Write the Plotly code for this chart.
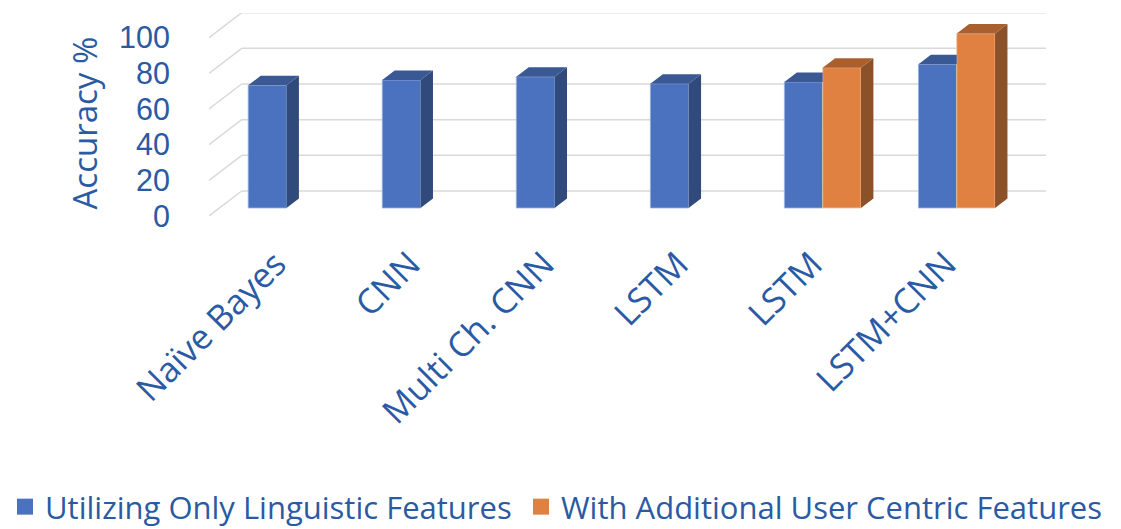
import plotly.graph_objects as go

# ---- data ----
categories = ["Naïve Bayes", "CNN", "Multi Ch. CNN", "LSTM", "LSTM", "LSTM+CNN"]
linguistic_only = [68.8, 71.8, 73.6, 69.7, 70.7, 80.6]
with_user_centric = [None, None, None, None, 78.7, 97.8]
y_ticks = [0, 20, 40, 60, 80, 100]
series_names = ["Utilizing Only Linguistic Features", "With Additional User Centric Features"]

# ---- figure geometry (pixels) ----
W, H = 1121, 529
L_PX, R_PX, T_PX, B_PX = 209, 1046, 13, 216
PX_PER_CAT = 134.05
PX_PER_VAL = 1.783

# oblique depth of the chart box, in data units
DEPTH_DX = 32.7 / PX_PER_CAT
DEPTH_DY = 25.0 / PX_PER_VAL
BAR_FRONT = 0.32      # fraction of box depth where bar front faces sit
BAR_DEPTH = 0.38      # fraction of box depth taken by each bar
BAR_W = 0.2857        # bar width in category units

x_min = -0.5
x_max = x_min + (R_PX - L_PX) / PX_PER_CAT
y_max = (B_PX - T_PX) / PX_PER_VAL

fdx, fdy = BAR_FRONT * DEPTH_DX, BAR_FRONT * DEPTH_DY
bdx, bdy = BAR_DEPTH * DEPTH_DX, BAR_DEPTH * DEPTH_DY

TEXT = "#2A5AA3"
FONT = "Open Sans"
styles = [
    dict(front="#4A72BF", side="#2F4A7B", top="#3A5894", edge="#9DB4E0", offset=-BAR_W),
    dict(front="#E08142", side="#8B5129", top="#A9602E", edge="#F2C3A0", offset=0.0),
]
legend_ids = ["legend", "legend2"]

fig = go.Figure()

# front faces
for k, (name, vals) in enumerate(zip(series_names, [linguistic_only, with_user_centric])):
    st = styles[k]
    fig.add_trace(go.Bar(
        x=[i + fdx for i in range(len(categories))], y=vals, base=fdy,
        width=BAR_W, offset=st["offset"], name=name, legendgroup=name,
        showlegend=False,
        marker=dict(color=st["front"], line=dict(color=st["edge"], width=0.8)),
        hovertemplate="%{customdata}: %{y}<extra>" + name + "</extra>",
        customdata=categories,
    ))


def faces(k, vals, other):
    """Side and top parallelograms for one series."""
    st = styles[k]
    sx, sy, tx, ty = [], [], [], []
    for i, v in enumerate(vals):
        if v is None:
            continue
        xl = i + fdx + st["offset"]
        xr = xl + BAR_W
        b, t = fdy, fdy + v
        neighbour = other[i] if other is not None else None
        hidden_right = neighbour is not None and neighbour >= v
        if not hidden_right:
            sx += [xr, xr + bdx, xr + bdx, xr, xr, None]
            sy += [b, b + bdy, t + bdy, t, b, None]
            tx += [xl, xr, xr + bdx, xl + bdx, xl, None]
            ty += [t, t, t + bdy, t + bdy, t, None]
        else:
            # the taller neighbour hides the right part of this bar
            tx += [xl, xr, xr, xl + bdx, xl, None]
            ty += [t, t, t + bdy, t + bdy, t, None]
    return sx, sy, tx, ty


for k, (vals, other) in enumerate([(linguistic_only, with_user_centric), (with_user_centric, None)]):
    st = styles[k]
    sx, sy, tx, ty = faces(k, vals, other)
    for px_, py_, col in [(sx, sy, st["side"]), (tx, ty, st["top"])]:
        if px_:
            fig.add_trace(go.Scatter(
                x=px_, y=py_, mode="lines", fill="toself", fillcolor=col,
                line=dict(width=0, color=col), hoverinfo="skip",
                showlegend=False, legendgroup=series_names[k],
            ))

# legend entries, one legend box per series
for k, name in enumerate(series_names):
    fig.add_trace(go.Scatter(
        x=[None], y=[None], mode="markers", name=name, legendgroup=name,
        legend=legend_ids[k],
        marker=dict(symbol="square", size=20, color=styles[k]["front"]),
    ))

# back wall gridlines and left depth lines
shapes = []
for v in y_ticks:
    shapes.append(dict(type="line", xref="x", yref="y", layer="below",
                       x0=x_min, y0=v, x1=x_min + DEPTH_DX, y1=v + DEPTH_DY,
                       line=dict(color="#D9D9D9", width=1.5)))
    shapes.append(dict(type="line", xref="x", yref="y", layer="below",
                       x0=x_min + DEPTH_DX, y0=v + DEPTH_DY, x1=x_max, y1=v + DEPTH_DY,
                       line=dict(color="#D9D9D9", width=1.5)))

legend_style = dict(orientation="h", xref="container", yref="container",
                    y=1 - 507 / H, xanchor="left", yanchor="middle",
                    font=dict(size=31, color=TEXT, family=FONT),
                    bgcolor="rgba(0,0,0,0)")

fig.update_layout(
    width=W, height=H,
    margin=dict(l=L_PX, r=W - R_PX, t=T_PX, b=H - B_PX, autoexpand=False),
    paper_bgcolor="white", plot_bgcolor="white",
    font=dict(family=FONT, color=TEXT, size=32),
    barmode="overlay",
    shapes=shapes,
    xaxis=dict(range=[x_min, x_max], tickvals=list(range(len(categories))),
               ticktext=categories, tickangle=-45, showgrid=False, zeroline=False,
               showline=False, ticks="", tickfont=dict(size=34.5, color=TEXT),
               ticklabelstandoff=20, fixedrange=True),
    yaxis=dict(range=[0, y_max], tickvals=y_ticks, showgrid=False, zeroline=False,
               showline=False, ticks="",
               tickfont=dict(size=30.5, color=TEXT, family="Liberation Sans"),
               ticklabelstandoff=38, fixedrange=True),
    legend=dict(legend_style, x=5 / W),
    legend2=dict(legend_style, x=521 / W),
    annotations=[dict(text="Accuracy %", xref="paper", yref="paper",
                      x=(84 - L_PX) / (R_PX - L_PX), y=(B_PX - 122.5) / (B_PX - T_PX),
                      textangle=-90, showarrow=False, xanchor="center", yanchor="middle",
                      font=dict(size=33, color=TEXT))],
)

fig.write_html("out.html")
